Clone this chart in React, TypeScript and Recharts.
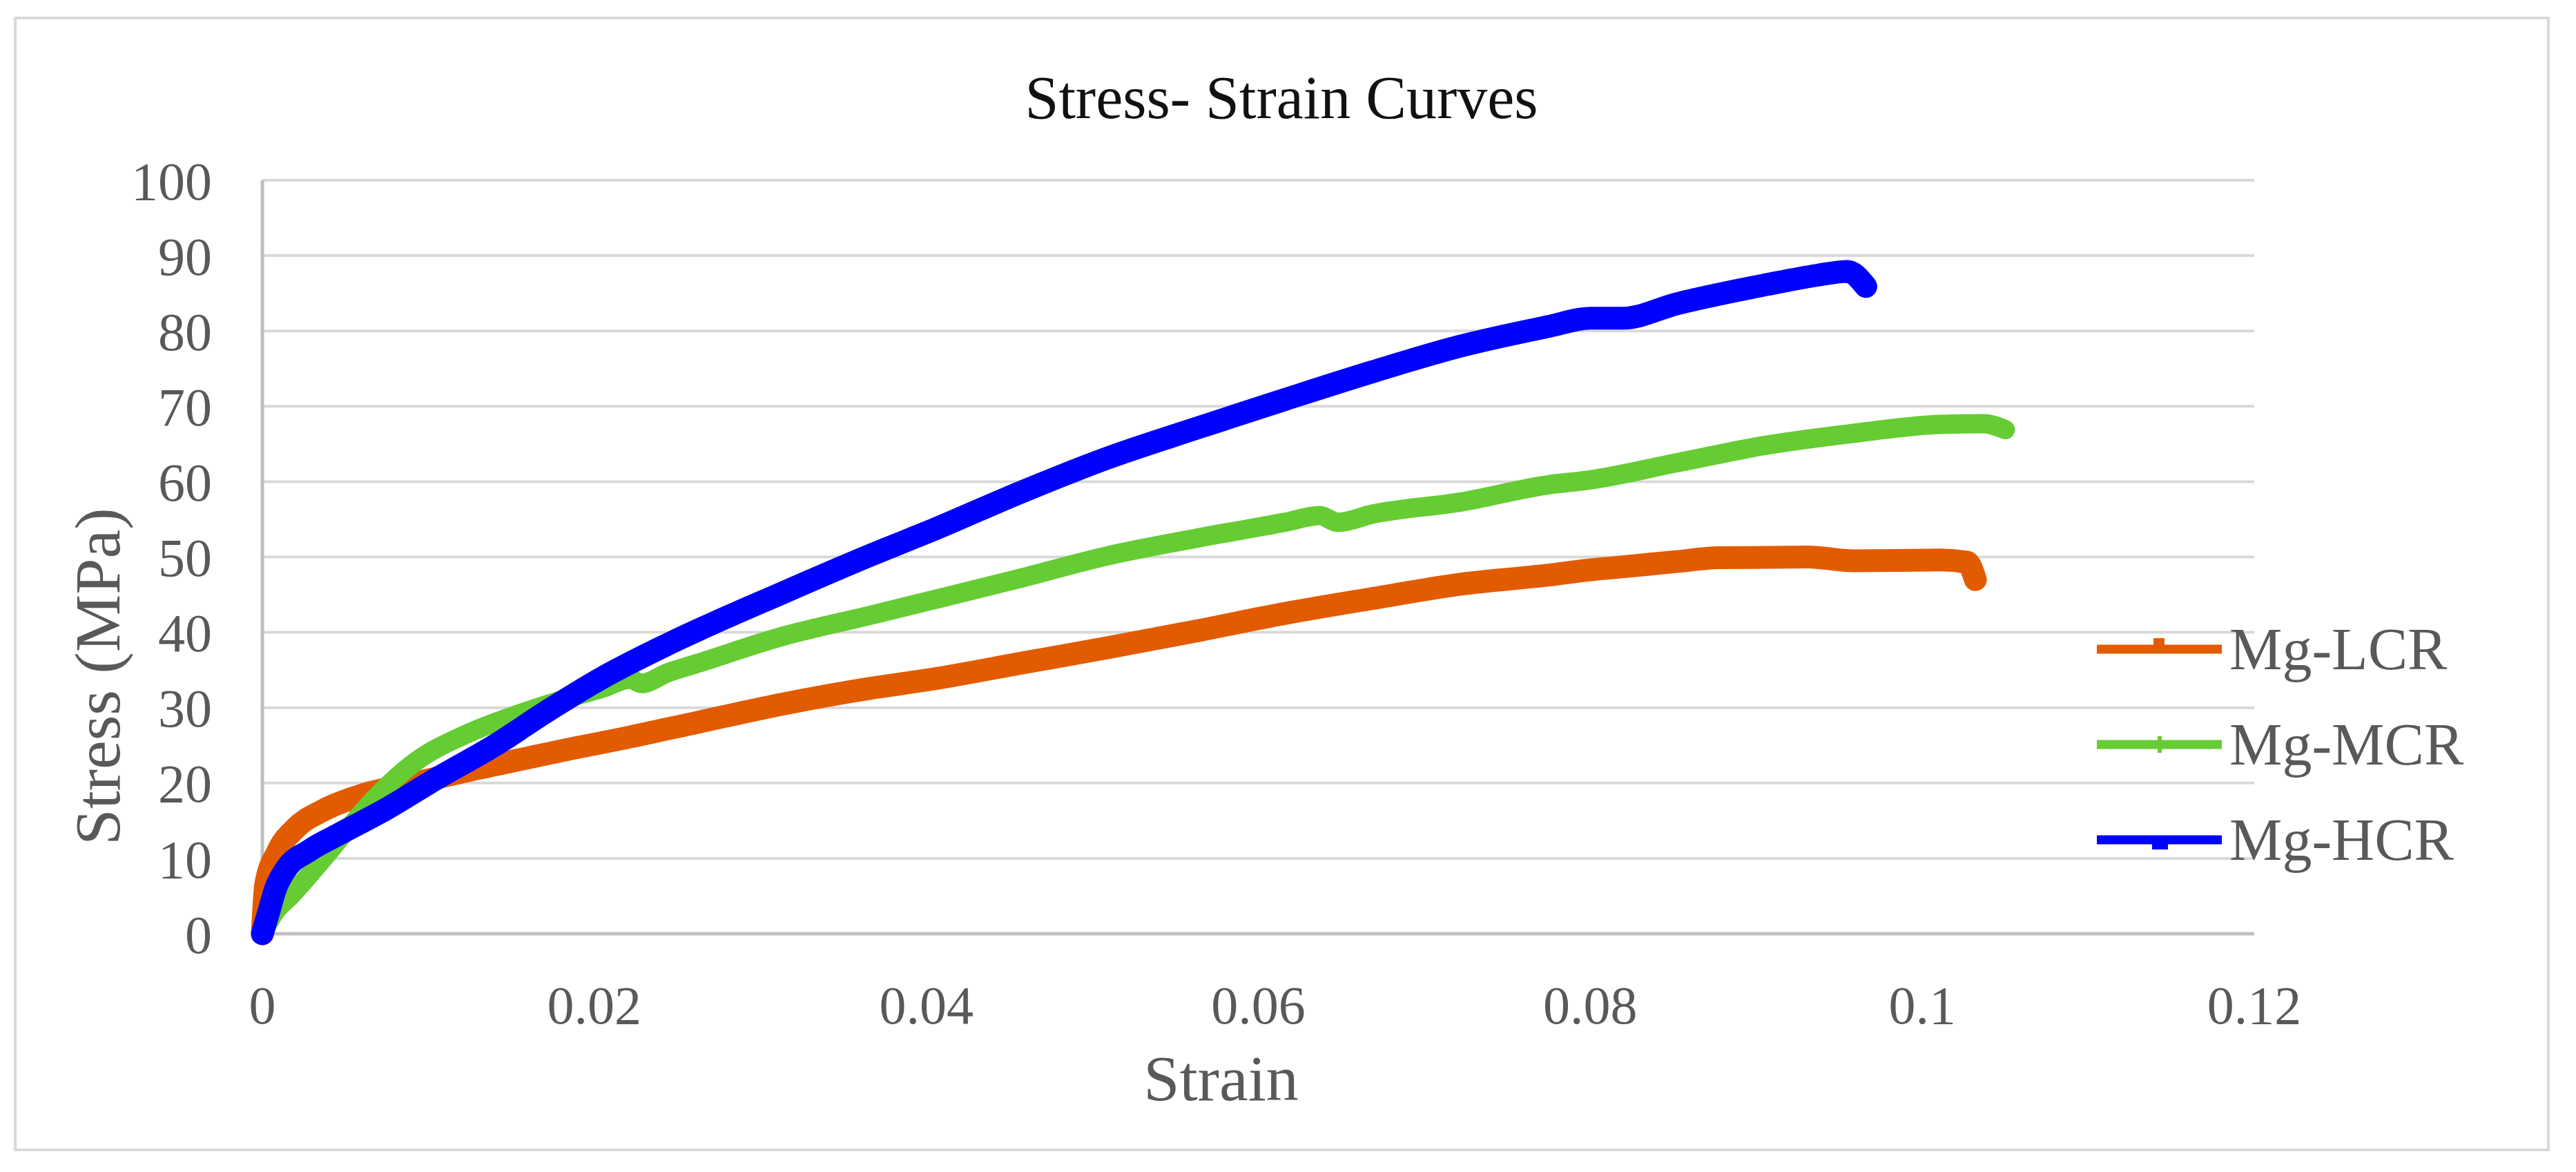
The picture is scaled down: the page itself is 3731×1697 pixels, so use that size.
import React from 'react';
import { LineChart, Line, XAxis, YAxis, CartesianGrid, Legend } from 'recharts';

// Mg-LCR (orange)
const lcrStrain = [0, 0.0002, 0.0009, 0.002, 0.0036, 0.006, 0.0092, 0.0123, 0.0155, 0.0187, 0.0219, 0.0261, 0.0314, 0.0367, 0.0404, 0.0457, 0.051, 0.0563, 0.0616, 0.0669, 0.0722, 0.0775, 0.08, 0.082, 0.0852, 0.0878, 0.0931, 0.0958, 0.1011, 0.1027, 0.1032];
const lcrStress = [0, 6.5, 10.8, 14.0, 16.3, 18.4, 20.0, 21.6, 23.1, 24.6, 26.0, 28.0, 30.5, 32.6, 33.8, 35.9, 38.0, 40.2, 42.5, 44.5, 46.4, 47.6, 48.3, 48.7, 49.4, 49.9, 50.0, 49.5, 49.6, 49.3, 47.0];

// Mg-MCR (green)
const mcrStrain = [0, 0.0008, 0.0017, 0.0036, 0.005, 0.0067, 0.0092, 0.0123, 0.0155, 0.018, 0.0205, 0.0222, 0.0228, 0.0245, 0.0261, 0.0314, 0.0367, 0.0404, 0.0457, 0.051, 0.0563, 0.0616, 0.0637, 0.0648, 0.0669, 0.0722, 0.0775, 0.0799, 0.0852, 0.0905, 0.0958, 0.1011, 0.1037, 0.105];
const mcrStress = [0, 3.0, 5.0, 9.8, 13.5, 17.8, 22.8, 26.5, 29.2, 31.0, 32.6, 33.8, 33.2, 34.7, 35.8, 39.5, 42.3, 44.3, 47.2, 50.2, 52.5, 54.6, 55.5, 54.6, 55.7, 57.3, 59.6, 60.2, 62.5, 64.8, 66.4, 67.6, 67.7, 66.9];

// Mg-HCR (blue)
const hcrStrain = [0, 0.0004, 0.0008, 0.0014, 0.0028, 0.0046, 0.0075, 0.0105, 0.014, 0.0172, 0.0205, 0.0245, 0.0314, 0.0367, 0.0404, 0.0457, 0.051, 0.0563, 0.0616, 0.0669, 0.0722, 0.0775, 0.08, 0.082, 0.0852, 0.0905, 0.0937, 0.0955, 0.0966];
const hcrStress = [0, 3.0, 6.0, 8.5, 11.0, 13.2, 16.6, 20.6, 25.0, 29.6, 34.0, 38.5, 45.3, 50.3, 53.6, 58.6, 63.2, 67.1, 70.9, 74.6, 78.0, 80.6, 81.7, 81.7, 83.6, 86.1, 87.4, 87.9, 85.9];

const xTicks = [0, 0.02, 0.04, 0.06, 0.08, 0.1, 0.12];
const yTicks = [0, 10, 20, 30, 40, 50, 60, 70, 80, 90, 100];

const FONT = '"Liberation Serif", "Times New Roman", serif';
const GREY = '#595959';

const toPoints = (xs: number[], ys: number[]) => xs.map((x, i) => ({ strain: x, stress: ys[i] }));

const series = [
  { name: 'Mg-LCR', color: '#E35B00', width: 33, data: toPoints(lcrStrain, lcrStress) },
  { name: 'Mg-MCR', color: '#66CC33', width: 28, data: toPoints(mcrStrain, mcrStress) },
  { name: 'Mg-HCR', color: '#0000FF', width: 33, data: toPoints(hcrStrain, hcrStress) },
];

const renderLegend = () => (
  <div style={{ fontFamily: FONT }}>
    {series.map((s, i) => (
      <div key={s.name} style={{ display: 'flex', alignItems: 'center', height: 138 }}>
        <svg width={192} height={40} style={{ display: 'block' }}>
          <rect x={0} y={13.5} width={181} height={13} fill={s.color} />
          {i === 0 && <rect x={82} y={4} width={16} height={10} fill={s.color} />}
          {i === 1 && <rect x={88} y={8} width={6} height={24} fill={s.color} />}
          {i === 2 && <rect x={80} y={26} width={23} height={8} fill={s.color} />}
        </svg>
        <span style={{ fontSize: 86, lineHeight: '86px', color: GREY, whiteSpace: 'nowrap' }}>{s.name}</span>
      </div>
    ))}
  </div>
);

export default function App() {
  return (
    <div style={{ position: 'relative', width: 3715, height: 1681, background: '#fff' }}>
      <div
        style={{
          position: 'absolute', left: 12, top: 16, width: 3673, height: 1643,
          border: '4px solid #d9d9d9', boxSizing: 'border-box',
        }}
      />
      <div
        style={{
          position: 'absolute', left: 0, top: 90, width: 3696, textAlign: 'center',
          fontFamily: FONT, fontSize: 88, lineHeight: '88px', color: '#111',
        }}
      >
        Stress- Strain Curves
      </div>
      <LineChart
        width={3715}
        height={1681}
        margin={{ top: 253, right: 458, bottom: 87, left: 0 }}
        style={{ position: 'absolute', left: 0, top: 0 }}
      >
        <CartesianGrid vertical={false} stroke="#d9d9d9" strokeWidth={4} />
        <XAxis
          type="number"
          dataKey="strain"
          domain={[0, 0.12]}
          ticks={xTicks}
          height={250}
          axisLine={{ stroke: '#bfbfbf', strokeWidth: 5 }}
          tickLine={false}
          tickSize={0}
          tickMargin={75}
          tick={{ fill: GREY, fontSize: 78, fontFamily: FONT }}
          label={{ value: 'Strain', position: 'insideBottom', offset: 9, dx: -54, fill: GREY, fontSize: 94, fontFamily: FONT }}
        />
        <YAxis
          type="number"
          domain={[0, 100]}
          ticks={yTicks}
          width={372}
          axisLine={{ stroke: '#bfbfbf', strokeWidth: 5 }}
          tickLine={false}
          tickSize={0}
          tickMargin={73}
          tick={{ fill: GREY, fontSize: 78, fontFamily: FONT }}
          label={{
            value: 'Stress (MPa)', position: 'insideLeft', angle: -90, offset: 132, dy: 173,
            fill: GREY, fontSize: 94, fontFamily: FONT, style: { textAnchor: 'middle' },
          }}
        />
        <Legend
          layout="vertical"
          align="center"
          verticalAlign="middle"
          content={renderLegend}
          wrapperStyle={{ left: 3029, top: 863, width: 620 }}
        />
        {series.map((s) => (
          <Line
            key={s.name}
            data={s.data}
            dataKey="stress"
            name={s.name}
            type="monotone"
            stroke={s.color}
            strokeWidth={s.width}
            strokeLinecap="round"
            strokeLinejoin="round"
            dot={false}
            activeDot={false}
            isAnimationActive={false}
            zIndex={600}
          />
        ))}
      </LineChart>
    </div>
  );
}
